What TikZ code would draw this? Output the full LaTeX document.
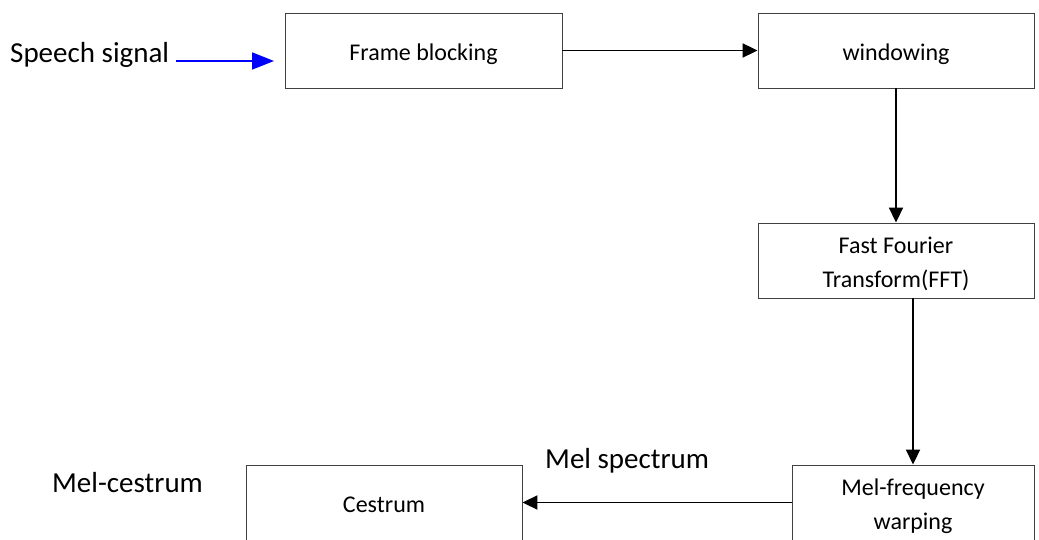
\documentclass[tikz,border=0pt]{standalone}
\usepackage{fontspec}
\setmainfont{Carlito}
\usetikzlibrary{arrows.meta}
\newcommand\boxtxt[1]{\raisebox{-3.5pt}[\height][\depth]{\begin{tabular}{@{}c@{}}#1\end{tabular}}}
\begin{document}
\begin{tikzpicture}[x=1pt,y=-1pt,
  box/.style={draw=black!75, line width=0.9pt, minimum width=276pt, minimum height=75pt,
    inner sep=0pt, font=\fontsize{24}{34}\selectfont},
  conn/.style={line width=1.9pt, -{Triangle[length=15pt,width=14pt]}},
  inconn/.style={line width=1.8pt, blue, -{Triangle[length=22pt,width=17pt]}},
  lbl/.style={font=\fontsize{29}{34}\selectfont, inner sep=0pt, anchor=base west}]
\useasboundingbox (0,0) rectangle (1039,540);
\fill[white] (0,0) rectangle (1039,540);
\node[box, minimum width=277pt] (frame) at (423.5,50.5) {\boxtxt{Frame blocking}};
\node[box] (win) at (896,50.5) {\boxtxt{windowing}};
\node[box] (fft) at (896,260.5) {\boxtxt{Fast Fourier\\Transform(FFT)}};
\node[box, minimum width=242pt] (mel) at (913,502.5) {\boxtxt{Mel-frequency\\warping}};
\node[box] (ces) at (384,502.5) {\boxtxt{Cestrum}};
\node[lbl] (speech) at (10,63) {Speech signal};
\node[lbl] (melspec) at (545,468) {Mel spectrum};
\node[lbl] (melcep) at (52,492) {Mel-cestrum};
\coordinate (sstart) at (176,61);
\coordinate (send) at (274,61);
\draw[inconn] (sstart) -- (send);
\draw[conn] (frame.east) -- (win.west);
\draw[conn] (win.south) -- (fft.north);
\draw[conn] (mel.north |- fft.south) -- (mel.north);
\draw[conn] (mel.west |- ces.east) -- (ces.east);
\end{tikzpicture}
\end{document}
